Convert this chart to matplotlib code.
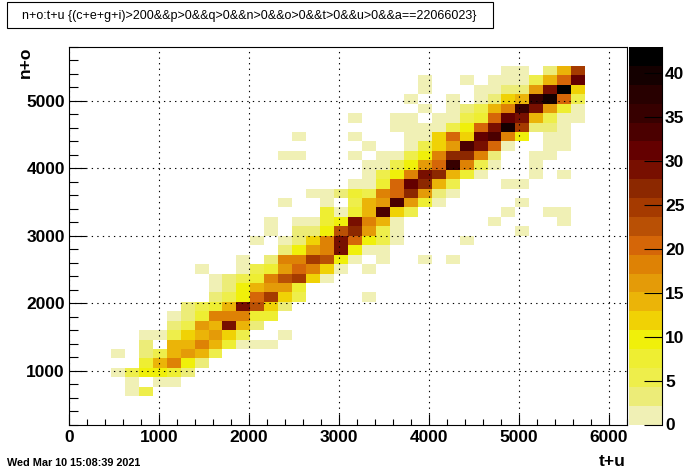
import numpy as np
import matplotlib
matplotlib.use('Agg')
import matplotlib.pyplot as plt
from matplotlib.colors import ListedColormap, BoundaryNorm
from matplotlib.patches import Rectangle

plt.rcParams['font.family'] = ['Liberation Sans', 'DejaVu Sans']

title = 'n+o:t+u {(c+e+g+i)>200&&p>0&&q>0&&n>0&&o>0&&t>0&&u>0&&a==22066023}'
stamp = 'Wed Mar 10 15:08:39 2021'

# axis ranges, 40 x 40 bins
x_min, x_max = 0, 6200
y_min, y_max = 200, 5800
n_bins = 40
z_max = 43
n_levels = 20

# counts per row: {x bin: count}, the index in the name is the y bin
y03 = {4: 1, 5: 5}
y04 = {4: 1, 6: 1, 7: 1}
y05 = {3: 1, 4: 5, 5: 9, 6: 9, 7: 8, 8: 3}
y06 = {5: 7, 6: 14, 7: 18, 8: 9, 9: 3}
y07 = {3: 1, 5: 3, 6: 5, 7: 14, 8: 16, 9: 14, 10: 5}
y08 = {5: 3, 7: 14, 8: 14, 9: 18, 10: 14, 11: 7, 12: 1, 13: 1, 14: 1}
y09 = {5: 1, 6: 1, 7: 5, 8: 11, 9: 14, 10: 16, 11: 11, 12: 5, 15: 1}
y10 = {7: 3, 8: 5, 9: 16, 10: 14, 11: 29, 12: 14, 13: 3}
y11 = {7: 1, 8: 3, 9: 7, 10: 18, 11: 18, 12: 18, 13: 7, 14: 7}
y12 = {8: 3, 9: 5, 10: 7, 11: 14, 12: 29, 13: 22, 14: 11, 15: 3}
y13 = {10: 3, 11: 5, 12: 9, 13: 20, 14: 24, 15: 11, 16: 5, 21: 1}
y14 = {10: 1, 11: 3, 12: 9, 13: 14, 14: 16, 15: 16, 16: 7}
y15 = {10: 1, 11: 3, 12: 5, 13: 7, 14: 18, 15: 22, 16: 24, 17: 11, 18: 1}
y16 = {9: 1, 12: 1, 13: 5, 14: 7, 15: 16, 16: 20, 17: 18, 18: 11, 19: 1, 21: 1}
y17 = {12: 1, 14: 3, 15: 18, 16: 18, 17: 24, 18: 22, 19: 9, 20: 1, 22: 1, 25: 1, 27: 1}
y18 = {15: 3, 16: 9, 17: 16, 18: 18, 19: 29, 20: 9, 21: 1, 22: 1}
y19 = {13: 1, 15: 1, 16: 3, 17: 11, 18: 18, 19: 29, 20: 20, 21: 9, 22: 5, 23: 1, 28: 1}
y20 = {14: 1, 16: 3, 17: 3, 18: 9, 19: 22, 20: 27, 21: 16, 22: 5, 23: 1, 32: 1}
y21 = {14: 1, 16: 1, 17: 1, 18: 8, 19: 9, 20: 29, 21: 18, 22: 14, 23: 1, 30: 1, 35: 1}
y22 = {18: 7, 19: 1, 20: 7, 21: 14, 22: 33, 23: 11, 24: 5, 31: 1, 34: 1, 35: 1}
y23 = {15: 1, 18: 1, 20: 5, 21: 14, 22: 16, 23: 33, 24: 16, 25: 7, 26: 1, 32: 1}
y24 = {17: 1, 18: 1, 19: 3, 20: 7, 21: 5, 22: 18, 23: 20, 24: 27, 25: 16, 26: 3, 27: 1}
y25 = {20: 1, 21: 1, 22: 7, 23: 20, 24: 31, 25: 27, 26: 14, 27: 5, 31: 1, 32: 1}
y26 = {21: 1, 22: 5, 23: 9, 24: 18, 25: 29, 26: 27, 27: 14, 28: 7, 29: 1, 33: 1, 35: 1}
y27 = {21: 1, 22: 1, 23: 5, 24: 9, 25: 16, 26: 20, 27: 35, 28: 18, 29: 5, 30: 1, 33: 1}
y28 = {15: 1, 16: 1, 20: 1, 22: 1, 23: 1, 24: 5, 25: 9, 26: 18, 27: 27, 28: 27, 29: 18, 30: 3, 33: 1, 34: 1}
y29 = {21: 1, 24: 1, 25: 5, 26: 11, 27: 16, 28: 33, 29: 29, 30: 20, 31: 1, 34: 1, 35: 1}
y30 = {16: 1, 20: 1, 24: 1, 25: 1, 26: 11, 27: 20, 28: 11, 29: 31, 30: 33, 31: 18, 32: 9, 34: 1, 35: 1}
y31 = {23: 1, 24: 1, 25: 1, 26: 1, 27: 5, 28: 9, 29: 20, 30: 29, 31: 39, 32: 24, 33: 3, 34: 3, 35: 1}
y32 = {20: 1, 23: 1, 24: 1, 26: 1, 27: 1, 28: 5, 29: 7, 30: 20, 31: 31, 32: 29, 33: 14, 34: 5, 35: 1, 36: 1}
y33 = {25: 1, 27: 1, 28: 3, 29: 5, 30: 14, 31: 18, 32: 35, 33: 29, 34: 16, 35: 7, 36: 1}
y34 = {24: 1, 27: 1, 29: 1, 30: 3, 31: 11, 32: 14, 33: 35, 34: 39, 35: 20, 36: 5}
y35 = {25: 1, 29: 1, 30: 1, 31: 3, 32: 3, 33: 16, 34: 29, 35: 43, 36: 11}
y36 = {25: 1, 28: 1, 30: 1, 31: 1, 32: 1, 33: 5, 34: 14, 35: 20, 36: 31}
y37 = {31: 1, 32: 1, 34: 3, 35: 14, 36: 24}

rows = [y03, y04, y05, y06, y07, y08, y09, y10, y11, y12, y13, y14, y15, y16, y17, y18, y19, y20,
        y21, y22, y23, y24, y25, y26, y27, y28, y29, y30, y31, y32, y33, y34, y35, y36, y37]
first_row = 3

# palette, bottom to top of the colour bar
palette = ['#f0f0b5', '#ecec78', '#eeee4b', '#eeee32', '#f0f00a',
           '#f0d205', '#ebb408', '#e49b08', '#de8205', '#d56608',
           '#b95005', '#a53a00', '#8c2800', '#780f00', '#640000',
           '#4b0000', '#370000', '#280000', '#140000', '#000000']

counts = np.zeros((n_bins, n_bins))
for j, row in enumerate(rows):
    for i, c in row.items():
        counts[j + first_row, i] = c

x_edges = np.linspace(x_min, x_max, n_bins + 1)
y_edges = np.linspace(y_min, y_max, n_bins + 1)
levels = np.linspace(0, z_max, n_levels + 1)
cmap = ListedColormap(palette)
norm = BoundaryNorm(levels, cmap.N)

W, H = 696, 472
label_size = 12.5
line_w = 0.8
fig = plt.figure(figsize=(W / 100, H / 100), dpi=100)

def px_axes(left, top, right, bottom):
    return fig.add_axes([left / W, 1 - bottom / H, (right - left) / W, (bottom - top) / H])

ax = px_axes(69, 47, 627, 424.5)
ax.pcolormesh(x_edges, y_edges, np.ma.masked_equal(counts, 0), cmap=cmap, norm=norm)
ax.set_xlim(x_min, x_max)
ax.set_ylim(y_min, y_max)
ax.set_xticks(np.arange(0, 7000, 1000))
ax.set_xticks(np.arange(0, 6201, 200), minor=True)
ax.set_yticks(np.arange(1000, 6000, 1000))
ax.set_yticks(np.arange(200, 5801, 200), minor=True)
ax.grid(True, which='major', color='black', linestyle=(0, (1.2, 3.8)), linewidth=0.8)
ax.set_axisbelow(False)
ax.tick_params(axis='x', which='major', direction='in', length=8, width=line_w, labelsize=label_size, pad=4)
ax.tick_params(axis='x', which='minor', direction='in', length=4, width=line_w)
ax.tick_params(axis='y', which='major', direction='in', length=12, width=line_w, labelsize=label_size, pad=3)
ax.tick_params(axis='y', which='minor', direction='in', length=6.2, width=line_w)
for lab in ax.get_xticklabels() + ax.get_yticklabels():
    lab.set_fontweight('bold')
for s in ax.spines.values():
    s.set_linewidth(line_w)

# colour bar
cax = px_axes(629, 47, 661.5, 424.5)
cax.pcolormesh([0, 1], levels, np.arange(n_levels).reshape(-1, 1) + 0.5,
               cmap=cmap, norm=BoundaryNorm(np.arange(n_levels + 1), cmap.N))
cax.set_xlim(0, 1)
cax.set_ylim(0, z_max)
cax.set_xticks([])
cax.yaxis.tick_right()
cax.set_yticks(np.arange(0, 45, 5))
cax.tick_params(axis='y', direction='in', length=13, width=line_w, labelsize=label_size, pad=2.5)
for lab in cax.get_yticklabels():
    lab.set_fontweight('bold')
for name, s in cax.spines.items():
    s.set_visible(name == 'right')
    s.set_linewidth(line_w)

# title box, labels, date
fig.add_artist(Rectangle((7 / W, 1 - 28 / H), 486 / W, 26 / H, transform=fig.transFigure,
                         facecolor='white', edgecolor='black', linewidth=line_w))
fig.text(249.5 / W, 1 - 16.5 / H, title, ha='center', va='center', fontsize=9.0)
fig.text(626 / W, 1 - 462 / H, 't+u', ha='right', va='center', fontsize=label_size, fontweight='bold')
fig.text(25 / W, 1 - 47 / H, 'n+o', rotation=90, ha='center', va='top', fontsize=label_size, fontweight='bold')
fig.text(7 / W, 1 - 463 / H, stamp, ha='left', va='center', fontsize=7.8, fontweight='bold')

fig.savefig('out.png', dpi=100)
